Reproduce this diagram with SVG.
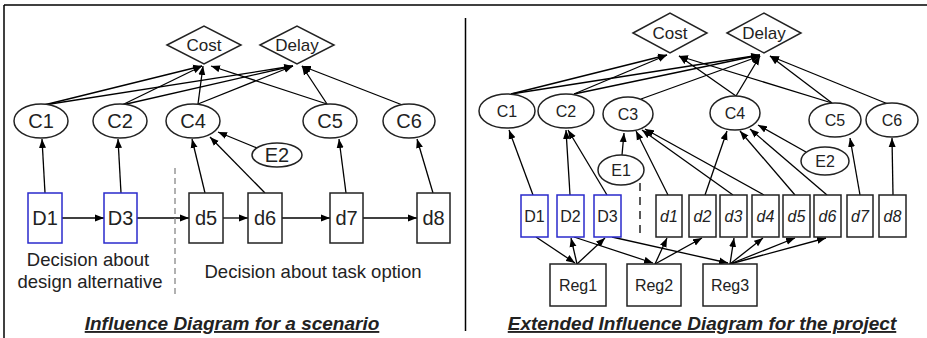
<svg xmlns="http://www.w3.org/2000/svg" width="927" height="338" viewBox="0 0 927 338">
<defs>
<marker id="ah" markerUnits="userSpaceOnUse" markerWidth="10" markerHeight="8" refX="9" refY="4" orient="auto">
<path d="M0,0.5 L9,4 L0,7.5 Z" fill="#000"/>
</marker>
<style>
.n{fill:#fff;stroke:#222;stroke-width:1.5}
.b{fill:#fff;stroke:#2a2acc;stroke-width:1.5}
.c line{stroke:#000;stroke-width:1.3;marker-end:url(#ah)}
.t{font-family:"Liberation Sans",Arial,sans-serif;fill:#222;text-anchor:middle}
.L{font-size:20px}
.R{font-size:16px}
.D{font-size:17px}
.i{font-style:italic}
.ttl{font-family:"Liberation Sans",Arial,sans-serif;font-size:19px;font-weight:bold;font-style:italic;text-decoration:underline;fill:#222;text-anchor:middle}
</style>
</defs>
<rect width="927" height="338" fill="#fff"/>
<g id="frame" stroke="#000" stroke-width="1.5" fill="none">
<line x1="4" y1="5" x2="927" y2="5"/>
<line x1="4" y1="5" x2="4" y2="338"/>
<line x1="465.5" y1="18" x2="465.5" y2="331"/>
</g>

<!-- LEFT PANEL -->
<g id="connectors-left" class="c">
<line x1="44" y1="105" x2="202" y2="66"/>
<line x1="44" y1="105" x2="293" y2="66"/>
<line x1="122" y1="105" x2="202" y2="66"/>
<line x1="122" y1="105" x2="293" y2="66"/>
<line x1="198" y1="104" x2="203" y2="66"/>
<line x1="198" y1="104" x2="293" y2="66"/>
<line x1="327" y1="104" x2="211" y2="66"/>
<line x1="327" y1="104" x2="302" y2="66"/>
<line x1="405" y1="106" x2="302" y2="66"/>
<line x1="45" y1="193" x2="42" y2="139"/>
<line x1="121" y1="193" x2="118" y2="139"/>
<line x1="205" y1="193" x2="192" y2="139"/>
<line x1="265" y1="193" x2="210" y2="137"/>
<line x1="257" y1="148" x2="218" y2="132"/>
<line x1="346" y1="193" x2="339" y2="139"/>
<line x1="433" y1="193" x2="417" y2="139"/>
<line x1="62" y1="218" x2="104" y2="218"/>
<line x1="137" y1="218" x2="189" y2="218"/>
<line x1="223" y1="218" x2="248" y2="218"/>
<line x1="282" y1="218" x2="330" y2="218"/>
<line x1="363" y1="218" x2="417" y2="218"/>
</g>
<line x1="175" y1="168" x2="175" y2="298" stroke="#888" stroke-width="1.3" stroke-dasharray="6,4"/>

<g id="L-Cost"><polygon class="n" points="167,45 204,26 241,45 204,64"/><text class="t D" x="204" y="51">Cost</text></g>
<g id="L-Delay"><polygon class="n" points="260,45 297,26 334,45 297,64"/><text class="t D" x="297" y="51">Delay</text></g>
<g id="L-C1"><ellipse class="n" cx="41" cy="121" rx="27" ry="17"/><text class="t L" x="41" y="128">C1</text></g>
<g id="L-C2"><ellipse class="n" cx="120" cy="121" rx="27" ry="17"/><text class="t L" x="120" y="128">C2</text></g>
<g id="L-C4"><ellipse class="n" cx="193" cy="121" rx="27" ry="17"/><text class="t L" x="193" y="128">C4</text></g>
<g id="L-C5"><ellipse class="n" cx="330" cy="121" rx="27" ry="17"/><text class="t L" x="330" y="128">C5</text></g>
<g id="L-C6"><ellipse class="n" cx="409" cy="121" rx="26" ry="17"/><text class="t L" x="409" y="128">C6</text></g>
<g id="L-E2"><ellipse class="n" cx="277" cy="155" rx="25" ry="12"/><text class="t L" x="277" y="162">E2</text></g>
<g id="L-D1"><rect class="b" x="28" y="193" width="34" height="50"/><text class="t L" x="45" y="225">D1</text></g>
<g id="L-D3"><rect class="b" x="104" y="193" width="33" height="50"/><text class="t L" x="120.5" y="225">D3</text></g>
<g id="L-d5"><rect class="n" x="189" y="193" width="34" height="50"/><text class="t L" x="206" y="225">d5</text></g>
<g id="L-d6"><rect class="n" x="248" y="193" width="34" height="50"/><text class="t L" x="265" y="225">d6</text></g>
<g id="L-d7"><rect class="n" x="330" y="193" width="33" height="50"/><text class="t L" x="346.5" y="225">d7</text></g>
<g id="L-d8"><rect class="n" x="417" y="193" width="33" height="50"/><text class="t L" x="433.5" y="225">d8</text></g>
<text class="t" font-size="18.5" x="88" y="266">Decision about</text>
<text class="t" font-size="18.5" x="90" y="288">design alternative</text>
<text class="t" font-size="18.5" x="313" y="278">Decision about task option</text>
<text class="ttl" x="232" y="330">Influence Diagram for a scenario</text>

<!-- RIGHT PANEL -->
<g id="connectors-right" class="c">
<line x1="511" y1="94" x2="667" y2="55"/>
<line x1="511" y1="94" x2="760" y2="55"/>
<line x1="574" y1="94" x2="667" y2="55"/>
<line x1="574" y1="94" x2="760" y2="55"/>
<line x1="641" y1="99" x2="760" y2="56"/>
<line x1="736" y1="96" x2="679" y2="56"/>
<line x1="736" y1="96" x2="760" y2="56"/>
<line x1="832" y1="103" x2="679" y2="56"/>
<line x1="832" y1="103" x2="770" y2="56"/>
<line x1="888" y1="104" x2="770" y2="56"/>
<line x1="533" y1="195" x2="509" y2="130"/>
<line x1="570" y1="195" x2="566" y2="130"/>
<line x1="607" y1="195" x2="568" y2="130"/>
<line x1="622" y1="155" x2="624" y2="133"/>
<line x1="668" y1="195" x2="636" y2="131"/>
<line x1="733" y1="195" x2="642" y2="130"/>
<line x1="764" y1="195" x2="645" y2="129"/>
<line x1="705" y1="195" x2="727" y2="131"/>
<line x1="795" y1="195" x2="740" y2="131"/>
<line x1="827" y1="195" x2="750" y2="129"/>
<line x1="806" y1="152" x2="758" y2="125"/>
<line x1="860" y1="195" x2="850" y2="138"/>
<line x1="893" y1="195" x2="892" y2="138"/>
<line x1="536" y1="237" x2="575" y2="263"/>
<line x1="577" y1="264" x2="571" y2="238"/>
<line x1="577" y1="264" x2="605" y2="238"/>
<line x1="574" y1="237" x2="653" y2="263"/>
<line x1="612" y1="237" x2="728" y2="263"/>
<line x1="655" y1="264" x2="667" y2="238"/>
<line x1="655" y1="264" x2="702" y2="238"/>
<line x1="730" y1="264" x2="734" y2="238"/>
<line x1="730" y1="264" x2="763" y2="238"/>
<line x1="730" y1="264" x2="795" y2="238"/>
<line x1="730" y1="264" x2="826" y2="238"/>
</g>
<line x1="640" y1="183" x2="640" y2="238" stroke="#222" stroke-width="1.5" stroke-dasharray="8,6"/>

<g id="R-Cost"><polygon class="n" points="633,33 670,13 707,33 670,53"/><text class="t D" x="670" y="39">Cost</text></g>
<g id="R-Delay"><polygon class="n" points="727,33 764,13 801,33 764,53"/><text class="t D" x="764" y="39">Delay</text></g>
<g id="R-C1"><ellipse class="n" cx="507" cy="111" rx="28" ry="17"/><text class="t R" x="507" y="117">C1</text></g>
<g id="R-C2"><ellipse class="n" cx="566" cy="111" rx="28" ry="17"/><text class="t R" x="566" y="117">C2</text></g>
<g id="R-C3"><ellipse class="n" cx="628" cy="114" rx="25" ry="17"/><text class="t R" x="628" y="120">C3</text></g>
<g id="R-C4"><ellipse class="n" cx="735" cy="113" rx="25" ry="17"/><text class="t R" x="735" y="119">C4</text></g>
<g id="R-C5"><ellipse class="n" cx="835" cy="120" rx="26" ry="17"/><text class="t R" x="835" y="126">C5</text></g>
<g id="R-C6"><ellipse class="n" cx="892" cy="120" rx="26" ry="17"/><text class="t R" x="892" y="126">C6</text></g>
<g id="R-E1"><ellipse class="n" cx="621" cy="170" rx="23" ry="15"/><text class="t R" x="621" y="176">E1</text></g>
<g id="R-E2"><ellipse class="n" cx="825" cy="161" rx="24" ry="14"/><text class="t R" x="825" y="167">E2</text></g>
<g id="R-D1"><rect class="b" x="521" y="195" width="27" height="42"/><text class="t R" x="534.5" y="222">D1</text></g>
<g id="R-D2"><rect class="b" x="557" y="195" width="27" height="42"/><text class="t R" x="570.5" y="222">D2</text></g>
<g id="R-D3"><rect class="b" x="594" y="195" width="27" height="42"/><text class="t R" x="607.5" y="222">D3</text></g>
<g id="R-d1"><rect class="n" x="656" y="195" width="26" height="42"/><text class="t R i" x="669" y="222">d1</text></g>
<g id="R-d2"><rect class="n" x="689" y="195" width="27" height="42"/><text class="t R i" x="702.5" y="222">d2</text></g>
<g id="R-d3"><rect class="n" x="720" y="195" width="27" height="42"/><text class="t R i" x="733.5" y="222">d3</text></g>
<g id="R-d4"><rect class="n" x="752" y="195" width="27" height="42"/><text class="t R i" x="765.5" y="222">d4</text></g>
<g id="R-d5"><rect class="n" x="783" y="195" width="27" height="42"/><text class="t R i" x="796.5" y="222">d5</text></g>
<g id="R-d6"><rect class="n" x="814" y="195" width="27" height="42"/><text class="t R i" x="827.5" y="222">d6</text></g>
<g id="R-d7"><rect class="n" x="847" y="195" width="26" height="42"/><text class="t R i" x="860" y="222">d7</text></g>
<g id="R-d8"><rect class="n" x="879" y="195" width="27" height="42"/><text class="t R i" x="892.5" y="222">d8</text></g>
<g id="R-Reg1"><rect class="n" x="550" y="264" width="56" height="42"/><text class="t R" x="578" y="291">Reg1</text></g>
<g id="R-Reg2"><rect class="n" x="627" y="264" width="54" height="42"/><text class="t R" x="654" y="291">Reg2</text></g>
<g id="R-Reg3"><rect class="n" x="703" y="264" width="54" height="42"/><text class="t R" x="730" y="291">Reg3</text></g>
<text class="ttl" x="702" y="330">Extended Influence Diagram for the project</text>
</svg>
